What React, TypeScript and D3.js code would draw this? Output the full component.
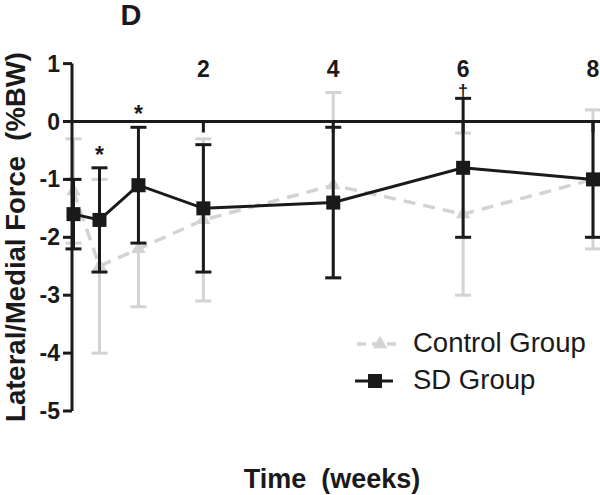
import React from "react";
import * as d3 from "d3";

const weeks = [0, 0.4, 1, 2, 4, 6, 8];
const sdMean = [-1.6, -1.7, -1.1, -1.5, -1.4, -0.8, -1.0];
const sdErr = [0.6, 0.9, 1.0, 1.1, 1.3, 1.2, 1.0];
const ctrlMean = [-1.2, -2.5, -2.2, -1.7, -1.1, -1.6, -1.0];
const ctrlErr = [0.9, 1.5, 1.0, 1.4, 1.6, 1.4, 1.2];
const yTicks = [1, 0, -1, -2, -3, -4, -5];
const xTicks = [2, 4, 6, 8];
const marks = [
  { week: 0.4, value: -0.8, text: "*", size: 23, dy: -5 },
  { week: 1, value: -0.1, text: "*", size: 23, dy: -5 },
  { week: 6, value: 0.4, text: "†", size: 18, dy: -1 },
];

const BLACK = "#1a1a1a";
const GRAY = "#d3d3d3";
const FONT = "'Liberation Sans', Arial, sans-serif";

export default function App() {
  const x = d3.scaleLinear().domain([0, 8]).range([73.5, 593]);
  const y = d3.scaleLinear().domain([-5, 1]).range([411, 63.6]);
  const line = d3
    .line<number>()
    .x((_, i) => x(weeks[i]))
    .y((d) => y(d));
  const tri = d3.symbol().type(d3.symbolTriangle).size(90)() as string;
  const cap = 8;

  return (
    <svg width={600} height={495} style={{ position: "absolute", left: 0, top: 0, background: "#fff" }} fontFamily={FONT}>
      {/* title */}
      <text x={131} y={25} fontSize={29} fontWeight="bold" textAnchor="middle" fill={BLACK}>D</text>

      {/* control group */}
      <g>
        {weeks.map((w, i) => (
          <g key={"ce" + i} stroke={GRAY} strokeWidth={3}>
            <line x1={x(w)} x2={x(w)} y1={y(ctrlMean[i] + ctrlErr[i])} y2={y(ctrlMean[i] - ctrlErr[i])} />
            <line x1={x(w) - cap} x2={x(w) + cap} y1={y(ctrlMean[i] + ctrlErr[i])} y2={y(ctrlMean[i] + ctrlErr[i])} />
            <line x1={x(w) - cap} x2={x(w) + cap} y1={y(ctrlMean[i] - ctrlErr[i])} y2={y(ctrlMean[i] - ctrlErr[i])} />
          </g>
        ))}
        <path d={line(ctrlMean) || ""} fill="none" stroke={GRAY} strokeWidth={3.5} strokeDasharray="12,8" />
        {weeks.map((w, i) => (
          <path key={"ct" + i} d={tri} transform={`translate(${x(w)},${y(ctrlMean[i])})`} fill={GRAY} />
        ))}
      </g>

      {/* axes */}
      <line x1={72} x2={72} y1={y(1)} y2={y(-5)} stroke={BLACK} strokeWidth={3} />
      {yTicks.map((t) => (
        <g key={"yt" + t}>
          <line x1={63} x2={72} y1={y(t)} y2={y(t)} stroke={BLACK} strokeWidth={3} />
          <text x={60} y={y(t) + 8} fontSize={23} fontWeight="bold" textAnchor="end" fill={BLACK}>{t}</text>
        </g>
      ))}
      <line x1={72} x2={x(8)} y1={y(0)} y2={y(0)} stroke={BLACK} strokeWidth={3} />
      {xTicks.map((t) => (
        <g key={"xt" + t}>
          <line x1={x(t)} x2={x(t)} y1={y(0)} y2={y(0) + 11} stroke={BLACK} strokeWidth={3} />
          <text x={x(t)} y={77} fontSize={23} fontWeight="bold" textAnchor="middle" fill={BLACK}>{t}</text>
        </g>
      ))}

      {/* SD group */}
      <g>
        {weeks.map((w, i) => (
          <g key={"se" + i} stroke={BLACK} strokeWidth={3}>
            <line x1={x(w)} x2={x(w)} y1={y(sdMean[i] + sdErr[i])} y2={y(sdMean[i] - sdErr[i])} />
            <line x1={x(w) - cap} x2={x(w) + cap} y1={y(sdMean[i] + sdErr[i])} y2={y(sdMean[i] + sdErr[i])} />
            <line x1={x(w) - cap} x2={x(w) + cap} y1={y(sdMean[i] - sdErr[i])} y2={y(sdMean[i] - sdErr[i])} />
          </g>
        ))}
        <path d={line(sdMean) || ""} fill="none" stroke={BLACK} strokeWidth={3} />
        {weeks.map((w, i) => (
          <rect key={"ss" + i} x={x(w) - 7} y={y(sdMean[i]) - 7} width={14} height={14} fill={BLACK} />
        ))}
      </g>

      {/* significance marks */}
      {marks.map((m, i) => (
        <text key={"m" + i} x={x(m.week)} y={y(m.value) + m.dy} fontSize={m.size} fontWeight="bold" textAnchor="middle" fill={BLACK}>{m.text}</text>
      ))}

      {/* legend */}
      <line x1={357} x2={402} y1={344} y2={344} stroke={GRAY} strokeWidth={3.5} strokeDasharray="9,6" />
      <path d={tri} transform="translate(380,344)" fill={GRAY} />
      <text x={413} y={352} fontSize={27.5} fill={BLACK}>Control Group</text>
      <line x1={355} x2={393} y1={381} y2={381} stroke={BLACK} strokeWidth={3} />
      <rect x={368} y={374} width={14} height={14} fill={BLACK} />
      <text x={413} y={389} fontSize={27.5} fill={BLACK}>SD Group</text>

      {/* axis titles */}
      <text transform="translate(25,237) rotate(-90)" fontSize={27.5} fontWeight="bold" textAnchor="middle" fill={BLACK} style={{ whiteSpace: "pre" }}>Lateral/Medial Force  (%BW)</text>
      <text x={332} y={488} fontSize={27} fontWeight="bold" textAnchor="middle" fill={BLACK} style={{ whiteSpace: "pre" }}>Time  (weeks)</text>
    </svg>
  );
}
